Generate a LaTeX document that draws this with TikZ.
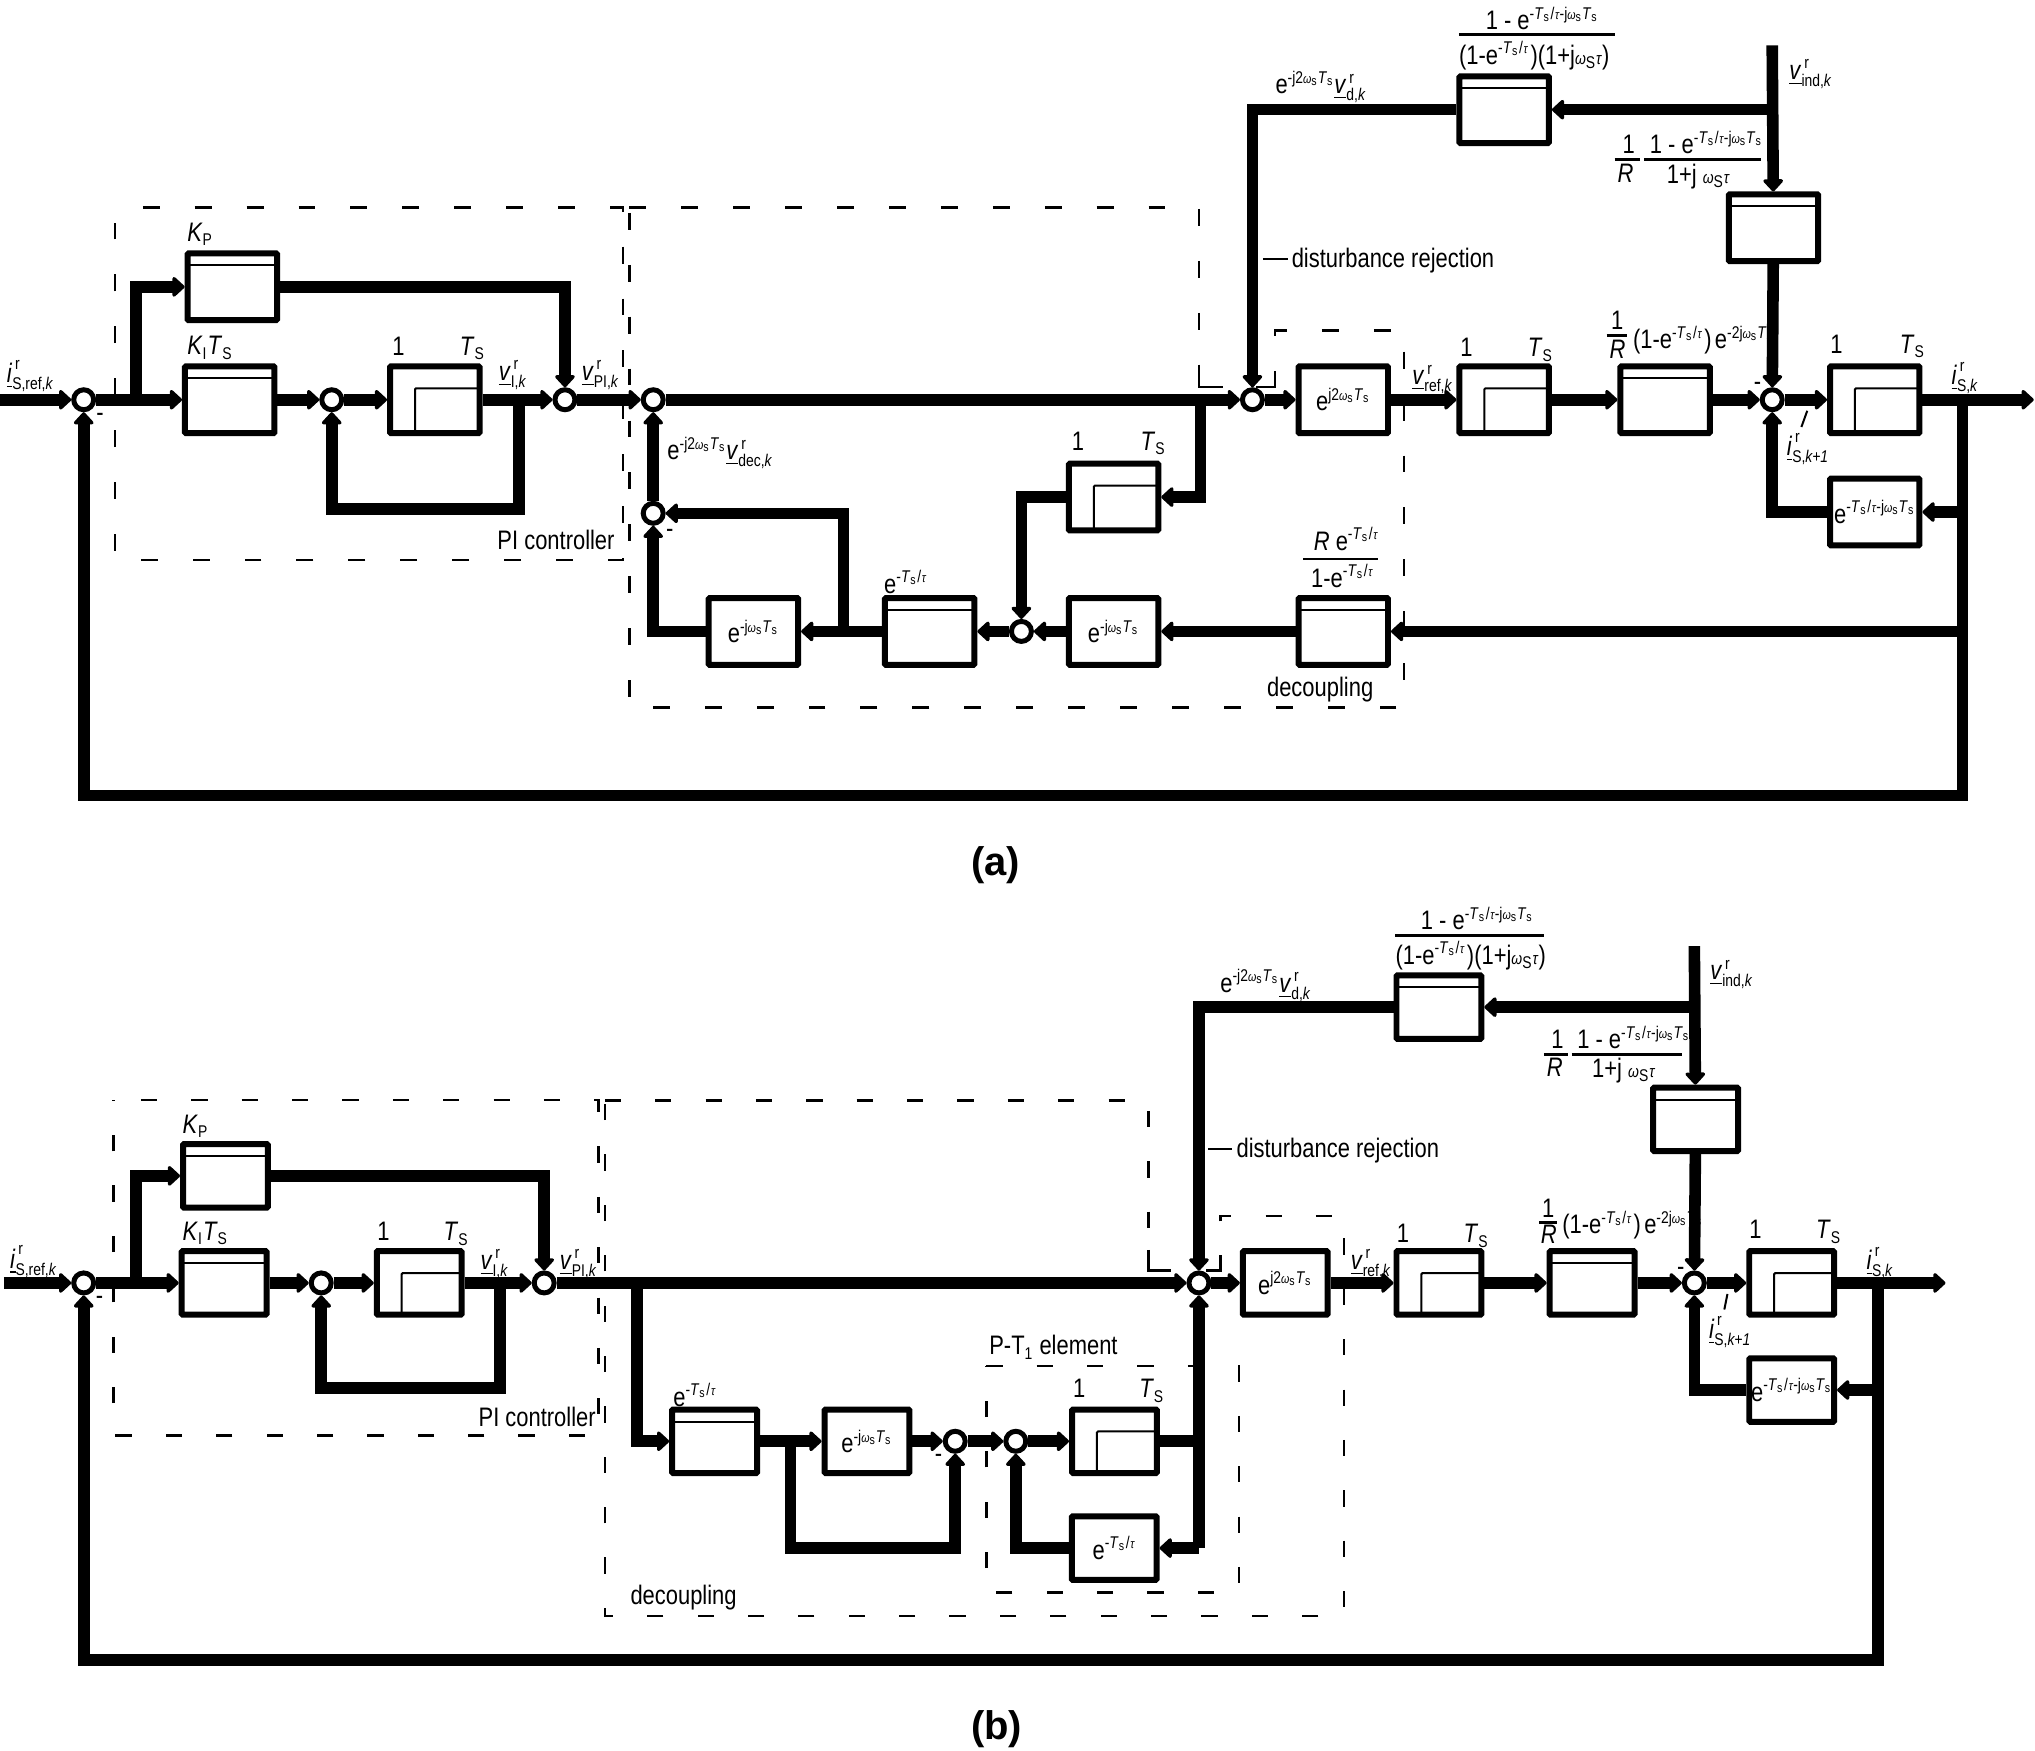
\documentclass[tikz,border=0pt]{standalone}
\usepackage{amsmath}
\usepackage{fontspec}
\setmainfont[FakeStretch=0.82]{Liberation Sans}
\newfontfamily\headfont{Liberation Sans}
\usepackage{xcolor}
\usetikzlibrary{arrows.meta, positioning, calc}
\DeclareMathSizes{13.4}{13.4}{8.5}{6.5}
\newcommand{\lblfont}{\fontsize{13.4}{15}\selectfont}
%% -- text pieces used by both panels --
\newcommand{\Tb}{\text{\textit{T}}_{\text{S}}}
\newcommand{\Te}{\text{\textit{T}}_{\text{s}}}
\newcommand{\We}{{\scriptscriptstyle\text{\textit{ω}}}_{\text{s}}}
\newcommand{\Wb}{{\scriptstyle\text{\textit{ω}}}_{\text{S}}}
\newcommand{\tauE}{{\scriptscriptstyle\text{\textit{τ}}}}
\newcommand{\tauB}{{\scriptstyle\text{\textit{τ}}}}
\newcommand{\xTau}{\text{-}\Te\text{\hspace{.04em}/\hspace{.04em}}\tauE}
\newcommand{\xJ}{\text{-j}\We\Te}
\newcommand{\xTauJ}{\xTau\text{-j}\We\Te}
\newcommand{\vlab}[3]{$\underline{\text{\textit{#1}}}^{\,\text{r}}_{\text{#2\textit{#3}}}$}
\newcommand{\fracFull}{(1-e$^{\xTau}$\hspace{.05em})(1+j$\Wb\tauB$)}
\newcommand{\fracRg}{(1-$\text{e}^{\xTau}$\hspace{.05em})\hspace{.12em}$\text{e}^{\text{-2j}\We\Te}$}
\tikzset{
  %% -- signal lines --
  sig/.style={draw, line width=5.8pt},
  sig/arr/.style={sig, -{Triangle[length=6.5pt,width=11.5pt,round]}},
  %% -- blocks (gain, integrator with step, plain) --
  blk/plain/.style={
    draw, line width=3pt, rounded corners=0.5pt, fill=white,
    inner sep=0pt, align=center, font=\lblfont
  },
  blk/gain/.style={blk/plain, path picture={
    \draw[line width=1pt]
      ([yshift=-6pt]path picture bounding box.north west) --
      ([yshift=-6pt]path picture bounding box.north east);
  }},
  blk/int/.style={blk/plain, path picture={
    \draw[line width=1pt]
      ([xshift=12.5pt]path picture bounding box.south west) --
      ([xshift=12.5pt,yshift=-11pt]path picture bounding box.north west) --
      ([yshift=-11pt]path picture bounding box.north east);
  }},
  blk/a/.style={minimum width=44.8pt, minimum height=33.4pt},
  blk/b/.style={minimum width=42.5pt, minimum height=31.8pt},
  %% -- summing point --
  sum/.style={circle, draw, line width=2.5pt, fill=white, inner sep=0pt, minimum size=10pt},
  %% -- texts, fraction bars, dashed frames --
  lbl/.style={anchor=base west, inner sep=0pt, font=\lblfont},
  head/.style={inner sep=0pt, font=\headfont\bfseries\fontsize{20}{22}\selectfont},
  fracbar/.style={line width=1.3pt},
  tick/.style={line width=1pt},
  frame/a/.style={draw, line width=1.2pt, dash pattern=on 8.45pt off 17.55pt},
  frame/b/.style={draw, line width=1.2pt, dash pattern=on 8.13pt off 17.1pt},
}
\begin{document}
\begin{tikzpicture}[x=0.65pt, y=-0.65pt]
\useasboundingbox (0,0) rectangle (1568,1349);

\pgfmathsetmacro{\yAm}{308}     %% main row, panel a
\pgfmathsetmacro{\yAl}{486.5}   %% lower row, panel a
\pgfmathsetmacro{\yBm}{988.5}   %% main row, panel b
\pgfmathsetmacro{\yBl}{1110.5}  %% lower row, panel b

%% ══════════════════════════════════════════════════════════════════════════
%% PANEL (a)
%% ══════════════════════════════════════════════════════════════════════════

%% ── Dashed frames ──────────────────────────────────────────────────────────
\draw[frame/a, dash phase=12pt] (88.5,160) -- (480,160) -- (480,431.5) -- (88.5,431.5) -- cycle;
\draw[frame/a] (485,160) -- (924,160) -- (924,270);
\draw[line width=1.2pt] (924,281) -- (924,298) -- (942.5,298);
\draw[line width=1.2pt] (968,298) -- (982.5,298) -- (982.5,286);
\draw[frame/a] (982.5,258.5) -- (982.5,254.5) -- (1082,254.5) -- (1082,545) -- (485,545);
\draw[frame/a] (485,164) -- (485,545);

%% ── Blocks and summing points ──────────────────────────────────────────────
\node[sum] (s1A) at (64.5,\yAm) {};
\node[blk/gain, blk/a] (kpA) at (179,221) {};
\node[blk/gain, blk/a] (kiA) at (177,\yAm) {};
\node[sum] (s3A) at (255.6,\yAm) {};
\node[blk/int, blk/a] (intA) at (335,\yAm) {};
\node[sum] (s2A) at (435.3,\yAm) {};
\node[sum] (s4A) at (503.3,\yAm) {};
\node[sum] (s7A) at (503.3,395.5) {};
\node[blk/plain, blk/a] (eA) at (580.5,\yAl) {$\text{e}^{\xJ}$};
\node[blk/gain, blk/a] (tauA) at (716.3,\yAl) {};
\node[sum] (s8A) at (787,\yAl) {};
\node[blk/plain, blk/a] (eB) at (858,\yAl) {$\text{e}^{\xJ}$};
\node[blk/gain, blk/a] (rA) at (1035,\yAl) {};
\node[blk/int, blk/a] (intB) at (858,383) {};
\node[sum] (s5A) at (965,\yAm) {};
\node[blk/plain, blk/a] (e2A) at (1035,\yAm) {$\text{e}^{\text{j2}\We\Te}$};
\node[blk/int, blk/a] (intC) at (1159,\yAm) {};
\node[blk/gain, blk/a] (rgA) at (1283,\yAm) {};
\node[sum] (s6A) at (1365.5,\yAm) {};
\node[blk/int, blk/a] (intD) at (1444.5,\yAm) {};
\node[blk/plain, blk/a] (fbA) at (1444.5,394.5) {$\text{e}^{\xTauJ}$};
\node[blk/gain, blk/a] (dA) at (1159,84.5) {};
\node[blk/gain, blk/a] (indA) at (1366.5,175.5) {};

%% ── Free ends and branch points ────────────────────────────────────────────
\coordinate (inA) at (0,\yAm);
\coordinate (outA) at (1567,\yAm);
\coordinate (vTopA) at (1365.5,35);
\coordinate (j1A) at (105,\yAm);
\coordinate (j2A) at (400,\yAm);
\coordinate (c2A) at (400,392);
\coordinate (j3A) at (650,\yAl);
\coordinate (j4A) at (1512,\yAl);
\coordinate (j5A) at (925,\yAm);
\coordinate (j6A) at (1365.5,84.5);
\coordinate (j7A) at (1512,\yAm);
\coordinate (j8A) at (1512,394.5);
\coordinate (c7A) at (1512,613);

%% ── Connectors ─────────────────────────────────────────────────────────────
\draw[sig/arr] (inA) -- (s1A);
\draw[sig/arr] (s1A) -- (kiA);
\draw[sig/arr] (j1A) |- (kpA);
\draw[sig/arr] (kpA) -| (s2A);
\draw[sig/arr] (kiA) -- (s3A);
\draw[sig/arr] (s3A) -- (intA);
\draw[sig/arr] (intA) -- (s2A);
\draw[sig/arr] (j2A) -- (c2A) -| (s3A);
\draw[sig/arr] (s2A) -- (s4A);
\draw[sig/arr] (s4A) -- (s5A);
\draw[sig/arr] (s7A) -- (s4A);
\draw[sig/arr] (eA) -| (s7A);
\draw[sig/arr] (j3A) |- (s7A);
\draw[sig/arr] (tauA) -- (eA);
\draw[sig/arr] (s8A) -- (tauA);
\draw[sig/arr] (eB) -- (s8A);
\draw[sig/arr] (rA) -- (eB);
\draw[sig/arr] (j4A) -- (rA);
\draw[sig/arr] (j5A) |- (intB);
\draw[sig/arr] (intB) -| (s8A);
\draw[sig/arr] (s5A) -- (e2A);
\draw[sig/arr] (e2A) -- (intC);
\draw[sig/arr] (intC) -- (rgA);
\draw[sig/arr] (rgA) -- (s6A);
\draw[sig/arr] (s6A) -- (intD);
\draw[sig/arr] (intD) -- (outA);
\draw[sig/arr] (dA) -| (s5A);
\draw[sig/arr] (j6A) -- (dA);
\draw[sig/arr] (vTopA) -- (indA);
\draw[sig/arr] (indA) -- (s6A);
\draw[sig/arr] (fbA) -| (s6A);
\draw[sig/arr] (j8A) -- (fbA);
\draw[sig/arr] (j7A) -- (c7A) -| (s1A);

%% ── Labels ─────────────────────────────────────────────────────────────────
\node[lbl] (i1A) at (5,295) {\vlab{i}{S,ref,}{k}};
\node[lbl] (m1A) at (74,325) {-};
\node[lbl] (kpTxA) at (144,186) {$\text{\textit{K}}_{\text{P}}$};
\node[lbl] (kiTxA) at (144,273.5) {$\text{\textit{K}}_{\text{I}}\Tb$};
\node[lbl] (oneAa) at (302,274) {1};
\node[lbl] (tsAa) at (354,274) {$\Tb$};
\node[lbl] (vIA) at (384,293) {\vlab{v}{I,}{k}};
\node[lbl] (vPA) at (448,293) {\vlab{v}{PI,}{k}};
\node[lbl] (piA) at (383,423.5) {PI controller};
\node[lbl] (decA) at (514,354) {$\text{e}^{\text{-j2}\We\Te}$\vlab{v}{dec,}{k}};
\node[lbl] (m7A) at (513,414) {-};
\node[lbl] (tauTxA) at (681,457) {$\text{e}^{\xTau}$};
\node[lbl] (oneAb) at (825.5,347) {1};
\node[lbl] (tsAb) at (878.5,347) {$\Tb$};
\node[lbl] (rnA) at (1012,424) {\textit{R} $\text{e}^{\xTau}$};
\draw[fracbar] (1004,430.7) -- (1061.5,430.7);
\node[lbl] (rdA) at (1010,452.5) {1-$\text{e}^{\xTau}$};
\node[lbl] (cplA) at (976,537) {decoupling};
\node[lbl] (numA) at (1144.5,23) {1 - $\text{e}^{\xTauJ}$};
\draw[fracbar] (1124,26.4) -- (1244.5,26.4);
\node[lbl] (denA) at (1124,49.5) {\fracFull};
\node[lbl] (vdA) at (982.5,72) {$\text{e}^{\text{-j2}\We\Te}$\vlab{v}{d,}{k}};
\node[lbl] (vindA) at (1378.5,61) {\vlab{v}{ind,}{k}};
\node[lbl] (oneRA) at (1250,118.5) {1};
\draw[fracbar] (1244,123) -- (1263.5,123);
\node[lbl] (rRA) at (1246,140.5) {\textit{R}};
\node[lbl] (numIA) at (1271,118.5) {1 - $\text{e}^{\xTauJ}$};
\draw[fracbar] (1267,123) -- (1356.5,123);
\node[lbl] (denIA) at (1284,141) {1+j $\Wb\tauB$};
\draw[tick] (973,199.5) -- (992.5,199.5);
\node[lbl] (distA) at (995,206) {disturbance rejection};
\node[lbl] (vrefA) at (1088,296.5) {\vlab{v}{ref,}{k}};
\node[lbl] (oneAc) at (1125,275) {1};
\node[lbl] (tsAc) at (1177,275) {$\Tb$};
\node[lbl] (oneRgA) at (1241,254) {1};
\draw[fracbar] (1238,258.7) -- (1253.5,258.7);
\node[lbl] (rRgA) at (1240,276.5) {\textit{R}};
\node[lbl] (rgTxA) at (1258,268.5) {\fracRg};
\node[lbl] (oneAd) at (1410,272.5) {1};
\node[lbl] (tsAd) at (1463.5,272.5) {$\Tb$};
\node[lbl] (m6A) at (1351,301) {-};
\node[lbl] (iA) at (1503.5,296) {\vlab{i}{S,}{k}};
\draw[tick] (1392.5,316.5) -- (1388,329);
\node[lbl] (inxA) at (1376.5,351) {\vlab{i}{S,}{k+1}};
\node[head] (capA) at (767,667) {(a)};

%% ══════════════════════════════════════════════════════════════════════════
%% PANEL (b)
%% ══════════════════════════════════════════════════════════════════════════

%% ── Dashed frames ──────────────────────────────────────────────────────────
\draw[frame/b, dash phase=11.5pt] (87.5,847.5) -- (461,847.5) -- (461,1106) -- (87.5,1106) -- cycle;
\draw[frame/b] (466,848) -- (885,848) -- (885,952);
\draw[line width=1.2pt] (885,963) -- (885,979) -- (902,979);
\draw[line width=1.2pt] (929.5,979) -- (940.3,979) -- (940.3,967);
\draw[frame/b] (940.3,941) -- (940.3,937) -- (1035.5,937) -- (1035.5,1245) -- (466,1245) -- (466,848);
\draw[frame/b] (760,1052.5) -- (954.5,1052.5) -- (954.5,1227) -- (760,1227) -- cycle;

%% ── Blocks and summing points ──────────────────────────────────────────────
\node[sum] (s1B) at (64.5,\yBm) {};
\node[blk/gain, blk/b] (kpB) at (173.7,906) {};
\node[blk/gain, blk/b] (kiB) at (172.7,\yBm) {};
\node[sum] (s3B) at (247.5,\yBm) {};
\node[blk/int, blk/b] (intP) at (323,\yBm) {};
\node[sum] (s2B) at (419.3,\yBm) {};
\node[sum] (s5B) at (923.8,\yBm) {};
\node[blk/gain, blk/b] (tauB) at (550.6,\yBl) {};
\node[blk/plain, blk/b] (eC) at (668,\yBl) {$\text{e}^{\xJ}$};
\node[sum] (s9B) at (736,\yBl) {};
\node[sum] (s10B) at (782.7,\yBl) {};
\node[blk/int, blk/b] (intS) at (858.7,\yBl) {};
\node[blk/plain, blk/b] (lowB) at (858.5,1192.8) {$\text{e}^{\xTau}$};
\node[blk/plain, blk/b] (e2B) at (990.3,\yBm) {$\text{e}^{\text{j2}\We\Te}$};
\node[blk/int, blk/b] (intQ) at (1108.7,\yBm) {};
\node[blk/gain, blk/b] (rgB) at (1226.7,\yBm) {};
\node[sum] (s6B) at (1305.5,\yBm) {};
\node[blk/int, blk/b] (intR) at (1380.5,\yBm) {};
\node[blk/plain, blk/b] (fbB) at (1380.5,1071) {$\text{e}^{\xTauJ}$};
\node[blk/gain, blk/b] (dB) at (1108.7,776) {};
\node[blk/gain, blk/b] (indB) at (1306.5,862.5) {};

%% ── Free ends and branch points ────────────────────────────────────────────
\coordinate (inB) at (3,\yBm);
\coordinate (outB) at (1499,\yBm);
\coordinate (vTopB) at (1305.5,729);
\coordinate (j1B) at (104.6,\yBm);
\coordinate (j2B) at (385.2,\yBm);
\coordinate (c2B) at (385.2,1069.6);
\coordinate (j3B) at (491,\yBm);
\coordinate (j4B) at (609,\yBl);
\coordinate (c4B) at (609,1192.8);
\coordinate (j5B) at (923.8,\yBl);
\coordinate (j6B) at (923.8,1192.8);
\coordinate (j7B) at (1305.5,776);
\coordinate (j8B) at (1447,\yBm);
\coordinate (j9B) at (1447,1071);
\coordinate (c8B) at (1447,1279);

%% ── Connectors ─────────────────────────────────────────────────────────────
\draw[sig/arr] (inB) -- (s1B);
\draw[sig/arr] (s1B) -- (kiB);
\draw[sig/arr] (j1B) |- (kpB);
\draw[sig/arr] (kpB) -| (s2B);
\draw[sig/arr] (kiB) -- (s3B);
\draw[sig/arr] (s3B) -- (intP);
\draw[sig/arr] (intP) -- (s2B);
\draw[sig/arr] (j2B) -- (c2B) -| (s3B);
\draw[sig/arr] (s2B) -- (s5B);
\draw[sig/arr] (j3B) |- (tauB);
\draw[sig/arr] (tauB) -- (eC);
\draw[sig/arr] (eC) -- (s9B);
\draw[sig/arr] (j4B) -- (c4B) -| (s9B);
\draw[sig/arr] (s9B) -- (s10B);
\draw[sig/arr] (s10B) -- (intS);
\draw[sig] (intS) -- (j5B);
\draw[sig/arr] (j6B) -- (s5B);
\draw[sig/arr] (j6B) -- (lowB);
\draw[sig/arr] (lowB) -| (s10B);
\draw[sig/arr] (s5B) -- (e2B);
\draw[sig/arr] (e2B) -- (intQ);
\draw[sig/arr] (intQ) -- (rgB);
\draw[sig/arr] (rgB) -- (s6B);
\draw[sig/arr] (s6B) -- (intR);
\draw[sig/arr] (intR) -- (outB);
\draw[sig/arr] (dB) -| (s5B);
\draw[sig/arr] (j7B) -- (dB);
\draw[sig/arr] (vTopB) -- (indB);
\draw[sig/arr] (indB) -- (s6B);
\draw[sig/arr] (fbB) -| (s6B);
\draw[sig/arr] (j9B) -- (fbB);
\draw[sig/arr] (j8B) -- (c8B) -| (s1B);

%% ── Labels ─────────────────────────────────────────────────────────────────
\node[lbl] (i1B) at (7.5,977) {\vlab{i}{S,ref,}{k}};
\node[lbl] (m1B) at (73.5,1005.5) {-};
\node[lbl] (kpTxB) at (140.5,873) {$\text{\textit{K}}_{\text{P}}$};
\node[lbl] (kiTxB) at (140.5,955.5) {$\text{\textit{K}}_{\text{I}}\Tb$};
\node[lbl] (oneBa) at (290.5,956) {1};
\node[lbl] (tsBa) at (341.5,956) {$\Tb$};
\node[lbl] (vIB) at (370,978) {\vlab{v}{I,}{k}};
\node[lbl] (vPB) at (431,978) {\vlab{v}{PI,}{k}};
\node[lbl] (piB) at (368.5,1099) {PI controller};
\node[lbl] (tauTxB) at (518.5,1083.5) {$\text{e}^{\xTau}$};
\node[lbl] (m9B) at (720,1127) {-};
\node[lbl] (ptB) at (762,1044) {P-T$_{\text{1}}$ element};
\node[lbl] (oneBb) at (826.5,1077) {1};
\node[lbl] (tsBb) at (877.5,1077) {$\Tb$};
\node[lbl] (cplB) at (485.5,1236.5) {decoupling};
\node[lbl] (numB) at (1094.5,716.5) {1 - $\text{e}^{\xTauJ}$};
\draw[fracbar] (1075,720.7) -- (1189.5,720.7);
\node[lbl] (denB) at (1075,743) {\fracFull};
\node[lbl] (vdB) at (940,764.5) {$\text{e}^{\text{-j2}\We\Te}$\vlab{v}{d,}{k}};
\node[lbl] (vindB) at (1317.5,755) {\vlab{v}{ind,}{k}};
\node[lbl] (oneRB) at (1195,808) {1};
\draw[fracbar] (1189.5,812.3) -- (1208.5,812.3);
\node[lbl] (rRB) at (1191.5,829.5) {\textit{R}};
\node[lbl] (numIB) at (1215,808) {1 - $\text{e}^{\xTauJ}$};
\draw[fracbar] (1211,812.3) -- (1296,812.3);
\node[lbl] (denIB) at (1226.5,830) {1+j $\Wb\tauB$};
\draw[tick] (930.8,885) -- (949,885);
\node[lbl] (distB) at (952.5,891.5) {disturbance rejection};
\node[lbl] (vrefB) at (1040.5,978) {\vlab{v}{ref,}{k}};
\node[lbl] (oneBc) at (1076,957.5) {1};
\node[lbl] (tsBc) at (1127.5,957.5) {$\Tb$};
\node[lbl] (oneRgB) at (1188,938) {1};
\draw[fracbar] (1186,942) -- (1200,942);
\node[lbl] (rRgB) at (1187,958.5) {\textit{R}};
\node[lbl] (rgTxB) at (1203.5,950.5) {\fracRg};
\node[lbl] (oneBd) at (1347.5,954.5) {1};
\node[lbl] (tsBd) at (1399,954.5) {$\Tb$};
\node[lbl] (m6B) at (1292,983) {-};
\node[lbl] (iB) at (1438,978) {\vlab{i}{S,}{k}};
\draw[tick] (1331,997) -- (1328.6,1009);
\node[lbl] (inxB) at (1316.5,1031.5) {\vlab{i}{S,}{k+1}};
\node[head] (capB) at (768,1332) {(b)};

\end{tikzpicture}
\end{document}
